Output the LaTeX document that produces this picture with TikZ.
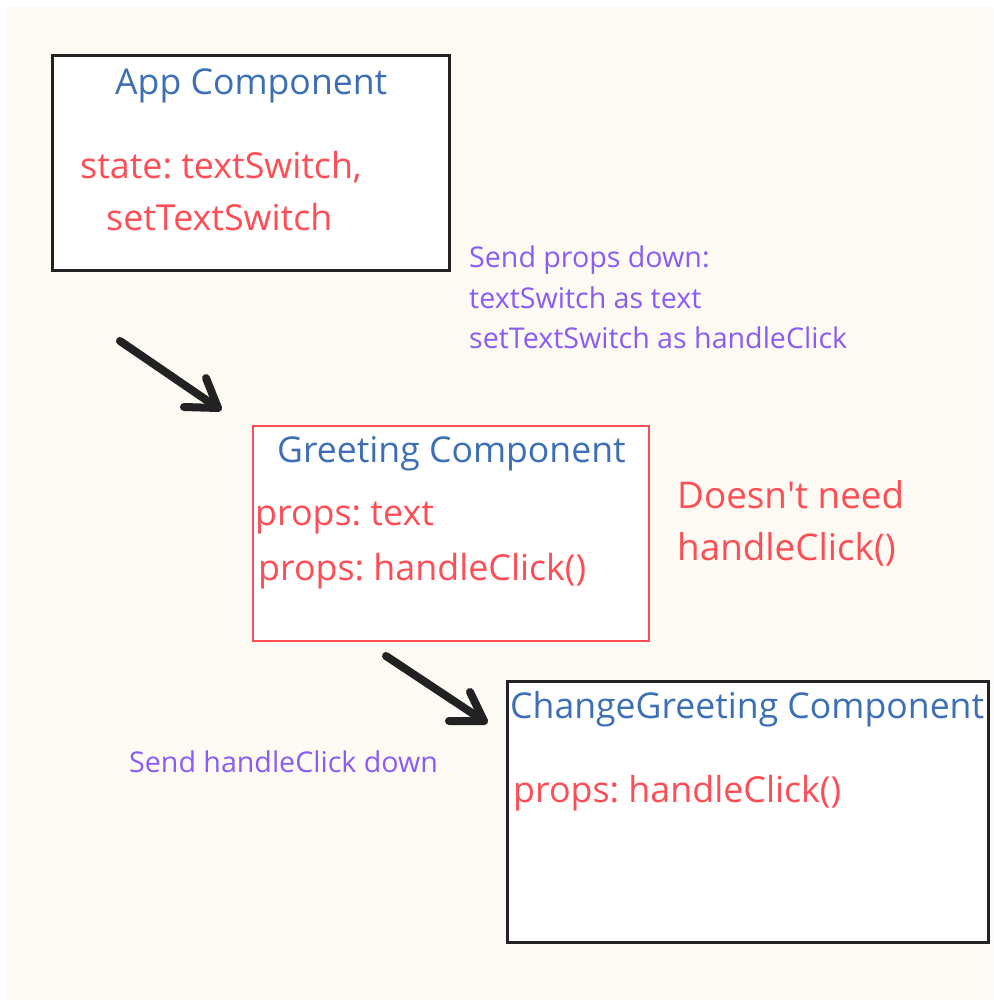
\documentclass[tikz,border=0pt]{standalone}
\usepackage{fontspec}
\setmainfont{Open Sans}
\frenchspacing
\definecolor{cream}{HTML}{FDFAF3}
\definecolor{tblue}{HTML}{3D6FB6}
\definecolor{tred}{HTML}{FF4D55}
\definecolor{tpurple}{HTML}{8A5CF5}
\definecolor{ink}{HTML}{222222}
\begin{document}
\begin{tikzpicture}[x=1pt,y=-1pt,
  box/.style={draw=ink,line width=3pt,fill=white},
  redbox/.style={draw=tred,line width=2pt,fill=white},
  title/.style={anchor=base west,inner sep=0pt,text=tblue,font=\fontsize{35.6}{42}\selectfont},
  body/.style={anchor=base west,inner sep=0pt,text=tred,font=\fontsize{35.8}{42}\selectfont},
  bigbody/.style={body,font=\fontsize{36.8}{44}\selectfont},
  note/.style={anchor=base west,inner sep=0pt,text=tpurple,font=\fontsize{28.6}{34}\selectfont},
  bigarrow/.style={draw=ink,line width=8pt,line cap=round,line join=round}]
\useasboundingbox (0,0) rectangle (993,1001);
\fill[white] (0,0) rectangle (993,1001);
\fill[cream] (6,7) rectangle (993,1000);
% boxes
\draw[box] (52,55) rectangle (449,270);
\draw[redbox] (253,426) rectangle (649,641);
\draw[box] (507,681) rectangle (988,942);
% App
\node[title] (apptitle) at (115,94) {App Component};
\node[body] (appstate) at (80,178) {state: textSwitch,};
\node[body] (appset) at (106,230) {setTextSwitch};
% Greeting
\node[title] (gtitle) at (277,462) {Greeting Component};
\node[body] (gtext) at (255,525) {props: text};
\node[body] (gclick) at (258,580) {props: handleClick()};
% Change greeting
\node[title] (ctitle) at (510,718) {ChangeGreeting Component};
\node[body] (cclick) at (513,802) {props: handleClick()};
% side notes
\node[bigbody] (dn1) at (677,508) {Doesn\textquotesingle t need};
\node[bigbody] (dn2) at (677,560) {handleClick()};
\node[note] (sp1) at (469,267) {Send props down:};
\node[note] (sp2) at (469,308) {textSwitch as text};
\node[note] (sp3) at (469,348) {setTextSwitch as handleClick};
\node[note] (shc) at (129,772) {Send handleClick down};
% arrows
\coordinate (a1s) at (120,341);
\coordinate (a1t) at (218,408);
\coordinate (a1u) at (206,378);
\coordinate (a1l) at (184,407);
\draw[bigarrow] (a1s) -- (a1t);
\draw[bigarrow] (a1u) -- (a1t) -- (a1l);
\coordinate (a2s) at (386,656);
\coordinate (a2t) at (484,721);
\coordinate (a2u) at (470,692);
\coordinate (a2l) at (449,721);
\draw[bigarrow] (a2s) -- (a2t);
\draw[bigarrow] (a2u) -- (a2t) -- (a2l);
\end{tikzpicture}
\end{document}
